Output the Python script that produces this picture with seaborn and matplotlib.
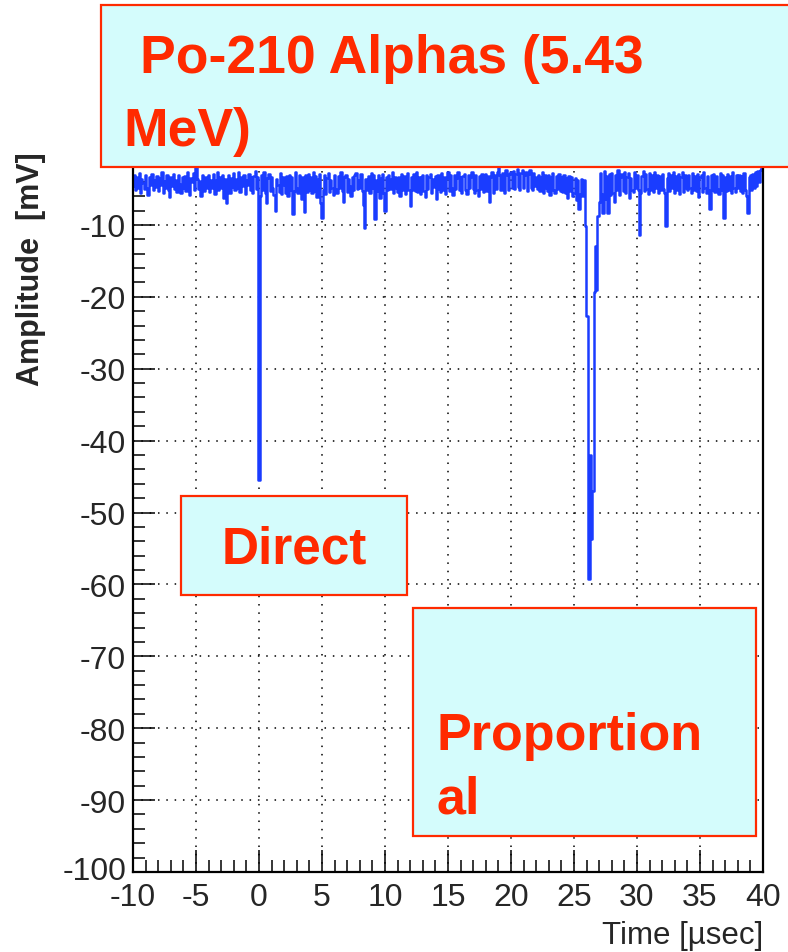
import numpy as np
import seaborn as sns
import matplotlib.pyplot as plt
from matplotlib.patches import Rectangle
from matplotlib.ticker import MultipleLocator
from matplotlib.transforms import ScaledTranslation

# Waveform: one sample every 0.1 usec starting at -10 usec
t_start = -10.0
dt = 0.1

amp_m10_0 = [
    -4.6, -3.0, -5.2, -3.4, -4.8, -2.8, -5.5, -3.6, -4.2, -5.0, -3.1, -4.9, -5.8, -3.3, -4.5, -2.9, -5.1, -3.8, -4.7, -3.2,
    -5.3, -3.5, -4.4, -2.7, -5.6, -3.9, -4.8, -3.0, -5.2, -6.1, -3.4, -4.6, -2.9, -5.0, -3.7, -5.4, -3.1, -4.3, -5.5, -3.3,
    -4.9, -3.2, -5.3, -2.6, -4.7, -5.8, -3.5, -4.1, -2.8, -5.2, -1.9, -3.6, -5.0, -3.9, -6.0, -3.0, -4.6, -5.3, -3.4, -4.8,
    -3.1, -5.4, -3.7, -4.9, -2.9, -5.7, -3.8, -2.7, -5.1, -3.3, -4.8, -3.0, -6.3, -3.6, -7.0, -4.2, -3.1, -5.6, -3.5, -4.7,
    -2.8, -5.2, -3.6, -4.9, -2.6, -5.4, -3.3, -4.6, -3.0, -5.7, -3.8, -4.4, -2.9, -5.1, -3.4, -5.5, -3.2, -2.5, -5.0, -3.4,
]
amp_0_10 = [
    -45.5, -6.0, -3.1, -5.2, -2.7, -5.6, -7.0, -3.5, -2.9, -5.3, -3.4, -4.9, -5.8, -8.0, -3.6, -4.4, -5.4, -2.8, -5.7, -3.3,
    -4.5, -5.5, -3.2, -6.0, -3.0, -5.1, -3.4, -8.5, -5.3, -2.6, -4.8, -5.6, -3.1, -5.0, -6.4, -3.4, -8.2, -3.0, -5.4, -2.9,
    -5.1, -3.3, -5.6, -2.7, -5.3, -3.2, -6.1, -3.6, -2.9, -7.0, -9.0, -5.1, -3.1, -5.7, -3.5, -2.8, -5.4, -3.7, -4.8, -5.9,
    -3.0, -5.0, -5.6, -3.2, -4.9, -2.7, -5.3, -6.8, -3.4, -3.0, -5.4, -3.6, -4.6, -6.0, -3.3, -5.2, -3.1, -2.8, -5.0, -3.7,
    -4.9, -2.9, -5.3, -7.2, -10.4, -3.6, -5.1, -3.2, -5.6, -2.8, -4.9, -3.1, -9.2, -3.7, -5.3, -3.0, -6.3, -3.5, -2.9, -5.6,
]
amp_10_20 = [
    -8.0, -3.3, -5.2, -3.0, -5.0, -3.6, -2.6, -5.5, -3.3, -4.8, -5.4, -3.4, -6.0, -2.9, -5.2, -3.2, -5.7, -3.6, -2.8, -5.2,
    -7.4, -3.3, -5.1, -2.9, -5.3, -2.7, -5.4, -3.3, -5.7, -3.4, -3.0, -5.3, -6.1, -3.1, -5.0, -3.4, -2.9, -5.6, -3.6, -4.7,
    -3.2, -6.4, -3.0, -5.0, -5.4, -2.8, -5.2, -3.3, -5.7, -3.5, -2.7, -5.3, -3.1, -4.9, -5.8, -3.0, -5.0, -3.5, -2.6, -5.1,
    -3.3, -5.5, -3.2, -2.9, -5.1, -5.7, -3.0, -4.9, -3.4, -2.6, -5.0, -5.6, -3.1, -5.2, -6.0, -3.2, -5.0, -2.9, -5.4, -3.4,
    -2.9, -5.3, -3.2, -6.8, -3.4, -2.7, -5.5, -3.1, -5.0, -2.6, -1.6, -3.0, -5.2, -2.8, -4.8, -5.5, -2.4, -3.1, -5.1, -2.9,
]
amp_20_30 = [
    -2.7, -4.8, -2.5, -5.0, -2.9, -2.2, -4.7, -5.2, -2.8, -2.4, -4.9, -3.0, -2.6, -5.3, -2.9, -2.3, -4.8, -5.1, -2.8, -4.6,
    -3.4, -5.0, -3.0, -5.3, -3.3, -2.7, -5.6, -3.1, -4.9, -5.3, -3.0, -5.8, -3.4, -2.8, -5.2, -5.5, -3.2, -5.0, -2.9, -5.3,
    -3.3, -5.4, -3.1, -5.6, -3.5, -6.2, -3.2, -5.3, -3.4, -6.0, -5.5, -3.5, -6.6, -3.7, -7.8, -5.7, -3.6, -6.0, -3.8, -10.1,
    -22.7, -22.7, -59.2, -42.0, -53.7, -47.0, -19.3, -13.0, -19.0, -8.8, -6.8, -2.8, -5.7, -8.3, -2.5, -6.4, -3.2, -8.4, -2.9, -5.8,
    -2.8, -5.5, -6.8, -3.1, -5.2, -2.4, -5.8, -3.3, -2.9, -5.3, -2.6, -5.6, -3.4, -2.8, -6.2, -3.5, -5.1, -5.4, -2.7, -4.9,
]
amp_30_40 = [
    -3.0, -5.2, -11.4, -5.5, -3.2, -2.5, -5.3, -2.9, -5.0, -5.7, -2.8, -5.1, -3.1, -5.4, -2.7, -4.9, -3.0, -5.5, -3.2, -5.2,
    -2.9, -5.0, -5.6, -10.2, -3.5, -2.8, -5.3, -3.1, -4.9, -2.6, -5.5, -3.2, -5.1, -2.9, -5.7, -3.4, -2.7, -5.4, -3.1, -4.9,
    -5.2, -3.0, -4.9, -5.5, -2.8, -5.1, -3.2, -5.3, -2.9, -6.1, -3.4, -3.1, -5.4, -2.7, -4.9, -5.6, -3.2, -5.2, -7.8, -3.0,
    -5.1, -2.9, -5.4, -3.2, -5.0, -5.7, -2.8, -5.2, -3.1, -9.0, -3.3, -5.3, -2.9, -5.1, -3.2, -5.5, -2.7, -4.9, -5.4, -3.1,
    -4.9, -3.0, -5.3, -3.2, -5.5, -2.8, -5.1, -6.0, -8.4, -3.4, -3.1, -5.2, -2.9, -4.8, -2.7, -4.6, -2.5, -4.1, -2.3, -1.6,
]

amplitude = np.array(amp_m10_0 + amp_0_10 + amp_10_20 + amp_20_30 + amp_30_40)
time = t_start + dt * np.arange(len(amplitude))

y_ticks = [-100, -90, -80, -70, -60, -50, -40, -30, -20, -10, 0]
title_lines = ["Po-210 Alphas (5.43", "MeV)"]
label_direct = "Direct"
label_prop = ["Proportion", "al"]

sns.set_style("ticks")
plt.rcParams['font.family'] = ['Liberation Sans', 'DejaVu Sans']
plt.rcParams['axes.unicode_minus'] = False

W, H = 788, 953
fig = plt.figure(figsize=(W / 100, H / 100), dpi=100)
ax = fig.add_axes([133 / W, 1 - 873 / H, 630 / W, 719 / H])

sns.lineplot(x=time, y=amplitude, ax=ax, color='#1a3cff', linewidth=1.8,
             drawstyle='steps-mid', estimator=None)

ax.set_xlim(-10, 40)
ax.set_ylim(-100, 0)
ax.xaxis.set_major_locator(MultipleLocator(5))
ax.xaxis.set_minor_locator(MultipleLocator(1))
ax.set_yticks(y_ticks)
ax.yaxis.set_minor_locator(MultipleLocator(2))
ax.tick_params(which='both', direction='in', width=1.1, color='black',
               top=False, right=False)
ax.tick_params(which='major', length=15.5, labelsize=23)
ax.tick_params(which='minor', length=8.5)
ax.tick_params(axis='x', which='major', pad=7)
ax.tick_params(axis='y', which='major', pad=5)

# lift the -100 label a little so it clears the -10 below it
ytick0 = ax.yaxis.get_major_ticks()[0]
ytick0.label1.set_transform(ytick0.label1.get_transform()
                            + ScaledTranslation(0, 4 / 100, fig.dpi_scale_trans))

ax.grid(True, which='major', color='black', linestyle=(0, (1, 4.45)), linewidth=1.1)
ax.set_axisbelow(True)
for side in ['left', 'bottom', 'right', 'top']:
    ax.spines[side].set_color('black')
    ax.spines[side].set_linewidth(1.6)

ax.set_xlabel("Time [µsec]", fontsize=22.5, ha='right', va='center')
ax.xaxis.set_label_coords(1.0, -0.087)
ax.set_ylabel("Amplitude  [mV]", fontsize=22, fontweight='bold', ha='right', va='center')
ax.yaxis.set_label_coords(-0.162, 1.003)

# Annotation boxes (ROOT TPaveText look)
red = '#ff2a00'
fill = '#d4fcfc'


def add_box(x0, y0, x1, y1):
    fig.patches.append(Rectangle((x0 / W, 1 - y1 / H), (x1 - x0) / W, (y1 - y0) / H,
                                 transform=fig.transFigure, facecolor=fill,
                                 edgecolor=red, linewidth=1.6, zorder=5))


def add_text(x, y, s, size):
    fig.text(x / W, 1 - y / H, s, ha='left', va='baseline', fontsize=size,
             fontweight='bold', color=red, zorder=6)


add_box(101, 6, 795, 168)
add_text(140, 73, title_lines[0], 38.5)
add_text(123, 146, title_lines[1], 38.5)

add_box(181, 497, 407, 596)
add_text(222, 564, label_direct, 37)

add_box(413, 609, 756, 837)
add_text(437, 750, label_prop[0], 37.5)
add_text(437, 814, label_prop[1], 37.5)

plt.savefig("out.png", dpi=100)
